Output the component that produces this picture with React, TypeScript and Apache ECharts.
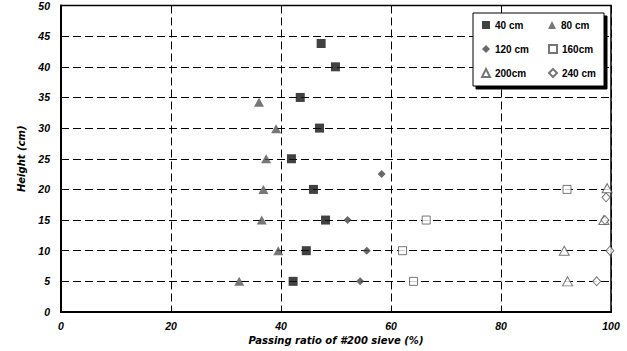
import React, { useEffect, useRef } from "react";
import * as echarts from "echarts";

const xTicks = [0, 20, 40, 60, 80, 100];
const yTicks = [0, 5, 10, 15, 20, 25, 30, 35, 40, 45, 50];

const s40: number[][] = [[42.2, 5], [44.6, 10], [48.1, 15], [45.9, 20], [41.9, 25], [47.0, 30], [43.5, 35], [49.9, 40], [47.3, 43.8]];
const s80: number[][] = [[32.4, 5], [39.5, 10], [36.5, 15], [36.8, 20], [37.3, 25], [39.1, 29.9], [36.0, 34.2]];
const s120: number[][] = [[54.4, 5], [55.6, 10], [52.1, 15], [58.3, 22.5]];
const s160: number[][] = [[64.1, 5], [62.1, 10], [66.4, 15], [92.0, 20]];
const s200: number[][] = [[92.1, 5], [91.5, 10], [98.7, 15], [99.3, 20.2]];
const s240: number[][] = [[97.4, 5], [99.8, 10], [98.9, 15], [99.1, 18.7]];

const FONT = "'Liberation Sans', Arial, sans-serif";
const WIDE = "'DejaVu Sans', Verdana, sans-serif";

export default function App() {
  const ref = useRef<HTMLDivElement>(null);
  useEffect(() => {
    document.body.style.margin = "0";
    const chart = echarts.init(ref.current!, null, { renderer: "svg" });
    const tickStyle = {
      fontFamily: FONT,
      fontSize: 10.5,
      fontWeight: "bold" as const,
      fontStyle: "italic" as const,
      color: "#000",
    };
    const nameStyle = {
      fontFamily: WIDE,
      fontSize: 10,
      fontWeight: "bold" as const,
      fontStyle: "italic" as const,
      color: "#000",
    };
    const hollow = { color: "#fff", borderColor: "#555", borderWidth: 1 };
    chart.setOption({
      animation: false,
      backgroundColor: "#fff",
      grid: {
        left: 61,
        right: 16,
        top: 5,
        bottom: 39,
        show: true,
        borderColor: "#000",
        borderWidth: 1.5,
        backgroundColor: "transparent",
      },
      xAxis: {
        type: "value",
        min: xTicks[0],
        max: xTicks[xTicks.length - 1],
        interval: 20,
        name: "Passing ratio of #200 sieve (%)",
        nameLocation: "middle",
        nameGap: 22,
        nameTextStyle: nameStyle,
        axisLine: { show: true, lineStyle: { color: "#000", width: 2 } },
        axisTick: { show: false },
        axisLabel: { ...tickStyle, margin: 8 },
        splitLine: { show: true, lineStyle: { color: "#000", width: 1, type: [8, 4] } },
      },
      yAxis: {
        type: "value",
        min: yTicks[0],
        max: yTicks[yTicks.length - 1],
        interval: 5,
        name: "Height (cm)",
        nameLocation: "middle",
        nameGap: 35,
        nameTextStyle: nameStyle,
        axisLine: { show: true, lineStyle: { color: "#000", width: 2 } },
        axisTick: { show: false },
        axisLabel: { ...tickStyle, margin: 11 },
        splitLine: { show: true, lineStyle: { color: "#000", width: 1, type: [8, 4] } },
      },
      legend: {
        left: 473,
        top: 13,
        width: 140,
        orient: "horizontal",
        padding: [6, 1, 7, 8],
        itemGap: 12,
        itemWidth: 8,
        itemHeight: 8,
        backgroundColor: "#fff",
        borderColor: "#000",
        borderWidth: 1,
        shadowColor: "#000",
        shadowBlur: 0,
        shadowOffsetX: 3,
        shadowOffsetY: 3,
        textStyle: {
          fontFamily: FONT,
          fontSize: 10,
          fontWeight: "bold",
          color: "#000",
          width: 41,
          lineHeight: 12,
        },
        data: ["40 cm", "80 cm", "120 cm", "160cm", "200cm", "240 cm"],
      },
      series: [
        { name: "40 cm", type: "scatter", data: s40, symbol: "rect", symbolSize: 9, itemStyle: { color: "#111" } },
        { name: "80 cm", type: "scatter", data: s80, symbol: "triangle", symbolSize: [10, 9], itemStyle: { color: "#555" } },
        { name: "120 cm", type: "scatter", data: s120, symbol: "diamond", symbolSize: 8, itemStyle: { color: "#444" } },
        { name: "160cm", type: "scatter", data: s160, symbol: "rect", symbolSize: 8, itemStyle: hollow },
        { name: "200cm", type: "scatter", data: s200, symbol: "triangle", symbolSize: [10, 9], itemStyle: hollow },
        { name: "240 cm", type: "scatter", data: s240, symbol: "diamond", symbolSize: [8, 9], itemStyle: hollow },
      ],
    });
    return () => chart.dispose();
  }, []);
  return (
    <div
      ref={ref}
      style={{ position: "fixed", left: 0, top: 0, width: 627, height: 351 }}
    />
  );
}
